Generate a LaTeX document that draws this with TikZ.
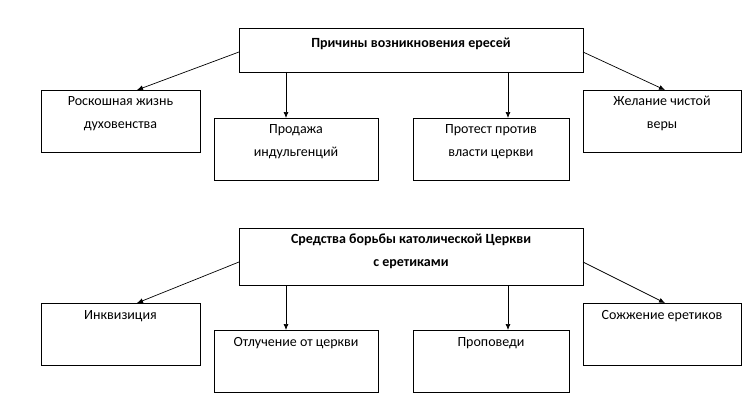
\documentclass[tikz,border=0pt]{standalone}
\usepackage{fontspec}
\setmainfont{Carlito}
\tikzset{x=1pt,y=-1pt,
 bx/.style={draw,line width=0.7pt,fill=white},
 tx/.style={align=center,font=\fontsize{14}{23}\selectfont,inner sep=0pt,anchor=north},
 ar/.style={-{Latex[length=6pt,width=5pt]},line width=0.7pt}}
\usetikzlibrary{arrows.meta}
\begin{document}
\begin{tikzpicture}
\useasboundingbox (0,0) rectangle (751,409);
% top
\node[bx,minimum width=344pt,minimum height=44pt,anchor=north west] (t1) at (239,28) {};
\node[tx,font=\fontsize{14}{23}\selectfont\bfseries] (t1t) at (411,38) {Причины возникновения ересей};
\node[bx,minimum width=159pt,minimum height=62pt,anchor=north west] (a1) at (41,90) {};
\node[tx] (a1t) at (120.5,96) {Роскошная жизнь\\духовенства};
\node[bx,minimum width=164pt,minimum height=62pt,anchor=north west] (a2) at (214,118) {};
\node[tx] (a2t) at (296,124) {Продажа\\индульгенций};
\node[bx,minimum width=156pt,minimum height=62pt,anchor=north west] (a3) at (413,118) {};
\node[tx] (a3t) at (491,124) {Протест против\\власти церкви};
\node[bx,minimum width=158pt,minimum height=62pt,anchor=north west] (a4) at (583,90) {};
\node[tx] (a4t) at (662,96) {Желание чистой\\веры};
\coordinate (s1) at (239,52); \coordinate (e1) at (137,90);
\coordinate (s2) at (286,72); \coordinate (e2) at (286,118);
\coordinate (s3) at (508,72); \coordinate (e3) at (508,118);
\coordinate (s4) at (583,52); \coordinate (e4) at (665,90);
\draw[ar] (s1)--(e1); \draw[ar] (s2)--(e2); \draw[ar] (s3)--(e3); \draw[ar] (s4)--(e4);
% bottom
\node[bx,minimum width=344pt,minimum height=57pt,anchor=north west] (t2) at (239,228) {};
\node[tx,font=\fontsize{14}{23}\selectfont\bfseries] (t2t) at (411,234) {Средства борьбы католической Церкви\\с еретиками};
\node[bx,minimum width=159pt,minimum height=62pt,anchor=north west] (b1) at (41,303) {};
\node[tx] (b1t) at (120.5,310) {Инквизиция};
\node[bx,minimum width=164pt,minimum height=62pt,anchor=north west] (b2) at (214,330) {};
\node[tx] (b2t) at (296,337) {Отлучение от церкви};
\node[bx,minimum width=156pt,minimum height=62pt,anchor=north west] (b3) at (413,330) {};
\node[tx] (b3t) at (491,337) {Проповеди};
\node[bx,minimum width=158pt,minimum height=62pt,anchor=north west] (b4) at (583,303) {};
\node[tx] (b4t) at (662,310) {Сожжение еретиков};
\coordinate (u1) at (239,262); \coordinate (v1) at (137,303);
\coordinate (u2) at (286,285); \coordinate (v2) at (286,330);
\coordinate (u3) at (508,285); \coordinate (v3) at (508,330);
\coordinate (u4) at (583,262); \coordinate (v4) at (665,303);
\draw[ar] (u1)--(v1); \draw[ar] (u2)--(v2); \draw[ar] (u3)--(v3); \draw[ar] (u4)--(v4);
\end{tikzpicture}
\end{document}
